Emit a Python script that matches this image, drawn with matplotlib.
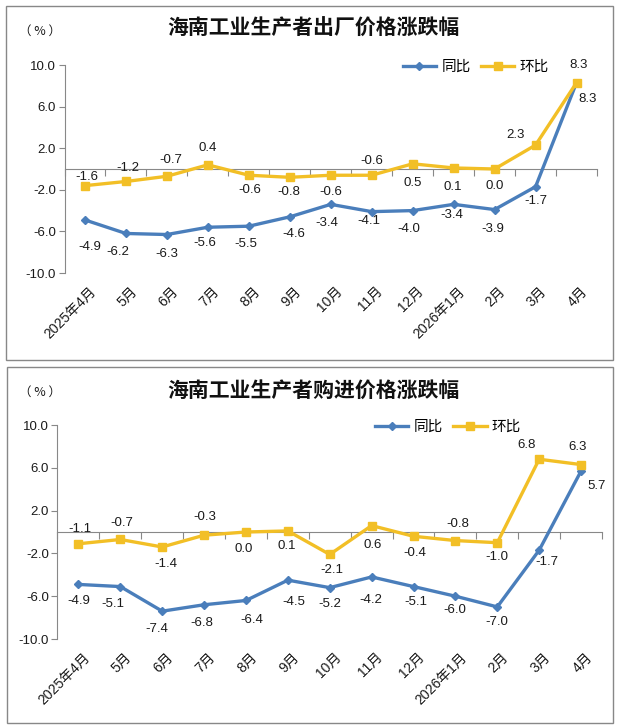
import matplotlib
matplotlib.use("Agg")
import matplotlib.pyplot as plt
from matplotlib.lines import Line2D
from matplotlib.patches import Rectangle
from matplotlib import transforms

plt.rcParams['font.family'] = ['Liberation Sans', 'Noto Sans CJK SC', 'DejaVu Sans']

# ---------------- data ----------------
months = ["2025年4月", "5月", "6月", "7月", "8月", "9月", "10月", "11月", "12月",
          "2026年1月", "2月", "3月", "4月"]
series_names = ["同比", "环比"]

title_top = "海南工业生产者出厂价格涨跌幅"
ppi_yoy = [-4.9, -6.2, -6.3, -5.6, -5.5, -4.6, -3.4, -4.1, -4.0, -3.4, -3.9, -1.7, 8.3]
ppi_mom = [-1.6, -1.2, -0.7, 0.4, -0.6, -0.8, -0.6, -0.6, 0.5, 0.1, 0.0, 2.3, 8.3]

title_bot = "海南工业生产者购进价格涨跌幅"
ipi_yoy = [-4.9, -5.1, -7.4, -6.8, -6.4, -4.5, -5.2, -4.2, -5.1, -6.0, -7.0, -1.7, 5.7]
ipi_mom = [-1.1, -0.7, -1.4, -0.3, 0.0, 0.1, -2.1, 0.6, -0.4, -0.8, -1.0, 6.8, 6.3]

yticks = [-10, -6, -2, 2, 6, 10]

# label offsets (pixels, dx, dy) -- styling only
top_yoy_off = [(5, -27), (-8, -19), (0, -19), (-3, -16), (-3, -18), (4, -17), (-4, -19),
               (-3, -9), (-4, -18), (-2, -11), (-2, -19), (0, -14), (11, -16)]
top_mom_off = [(2, 9), (2, 13), (4, 16), (0, 17), (1, -15), (-1, -15), (0, -17),
               (0, 14), (0, -19), (-1, -19), (0, -17), (-20, 10), (2, 18)]
bot_yoy_off = [(0, -17), (-7, -17), (-5, -18), (-2, -18), (6, -20), (6, -22), (0, -16),
               (-1, -23), (2, -15), (-1, -14), (0, -15), (8, -12), (16, -15)]
bot_mom_off = [(1, 15), (1, 16), (4, -17), (1, 18), (-2, -17), (-1, -15), (2, -16),
               (1, -19), (1, -17), (2, 17), (0, -14), (-13, 14), (-3, 18)]

BLUE = "#4A7EBB"
YELLOW = "#F2BF26"
GRAY = "#888888"

W, H = 619, 727
fig = plt.figure(figsize=(W / 100, H / 100), dpi=100)
fig.patch.set_facecolor("white")


def px_rect(x0, y0, x1, y1):
    return [x0 / W, 1 - y1 / H, (x1 - x0) / W, (y1 - y0) / H]


# panel borders
for (x0, y0, x1, y1) in [(6, 6, 613, 360), (7, 367, 613, 723)]:
    fig.patches.append(Rectangle((x0 / W, 1 - y1 / H), (x1 - x0) / W, (y1 - y0) / H,
                                 transform=fig.transFigure, fill=False,
                                 edgecolor=GRAY, lw=1.0))


def draw(ax, title, title_y, yoy, mom, yoy_off, mom_off, leg_x, pct_y):
    x = list(range(len(months)))
    ax.plot(x, yoy, color=BLUE, lw=2.4, marker="D", ms=4, mfc=BLUE, mec=BLUE,
            zorder=3)
    ax.plot(x, mom, color=YELLOW, lw=2.4, marker="s", ms=6, mfc=YELLOW, mec=YELLOW,
            zorder=4)
    ax.set_xlim(-0.5, len(months) - 0.5)
    ax.set_ylim(-10, 10)
    for s in ["top", "right"]:
        ax.spines[s].set_visible(False)
    ax.spines["left"].set_color(GRAY)
    ax.spines["bottom"].set_color(GRAY)
    ax.spines["bottom"].set_position(("data", 0))
    ax.set_yticks(yticks)
    ax.set_yticklabels([f"{v:.1f}" for v in yticks], fontsize=9.5, color="#1a1a1a")
    ax.tick_params(axis="y", direction="out", length=4, color=GRAY, pad=2)
    ax.set_xticks([i - 0.5 for i in range(len(months) + 1)])
    ax.set_xticklabels([])
    ax.tick_params(axis="x", direction="out", length=5, color=GRAY)
    trans = transforms.blended_transform_factory(ax.transData, ax.transAxes)
    for i, lab in enumerate(months):
        ax.annotate(lab, (i, 0), xycoords=trans, xytext=(4, -11),
                    textcoords="offset pixels", rotation=45, rotation_mode="anchor",
                    ha="right", va="top", fontsize=10, color="#1a1a1a",
                    family=["Liberation Sans", "Noto Sans CJK SC"])
    for i, v in enumerate(yoy):
        dx, dy = yoy_off[i]
        ax.annotate(f"{v:.1f}", (i, v), xytext=(dx, dy), textcoords="offset pixels",
                    ha="center", va="center", fontsize=9.5, color="#1a1a1a")
    for i, v in enumerate(mom):
        dx, dy = mom_off[i]
        ax.annotate(f"{v:.1f}", (i, v), xytext=(dx, dy), textcoords="offset pixels",
                    ha="center", va="center", fontsize=9.5, color="#1a1a1a")
    handles = [Line2D([], [], color=BLUE, lw=2.4, marker="D", ms=4),
               Line2D([], [], color=YELLOW, lw=2.4, marker="s", ms=6)]
    ax.legend(handles, series_names, loc="center left", bbox_to_anchor=(leg_x, 0.99),
              ncol=2, frameon=False, borderpad=0, borderaxespad=0,
              handlelength=2.3, handletextpad=0.35, columnspacing=0.7,
              prop={"family": ["Noto Sans CJK SC"], "size": 10.5})
    fig.text(313 / W, 1 - title_y / H, title, ha="center", va="center", fontsize=15,
             fontweight="bold", family=["Noto Sans CJK SC"], color="#111111")
    fig.text(40 / W, 1 - pct_y / H, "（ % ）", ha="center", va="center", fontsize=9,
             family=["Noto Sans CJK SC"], color="#1a1a1a")


ax1 = fig.add_axes(px_rect(64.5, 65, 597, 273))
draw(ax1, title_top, 28, ppi_yoy, ppi_mom, top_yoy_off, top_mom_off, 0.635, 31)

ax2 = fig.add_axes(px_rect(57.5, 425, 602, 639))
draw(ax2, title_bot, 390, ipi_yoy, ipi_mom, bot_yoy_off, bot_mom_off, 0.583, 392)

fig.savefig("out.png", dpi=100)
